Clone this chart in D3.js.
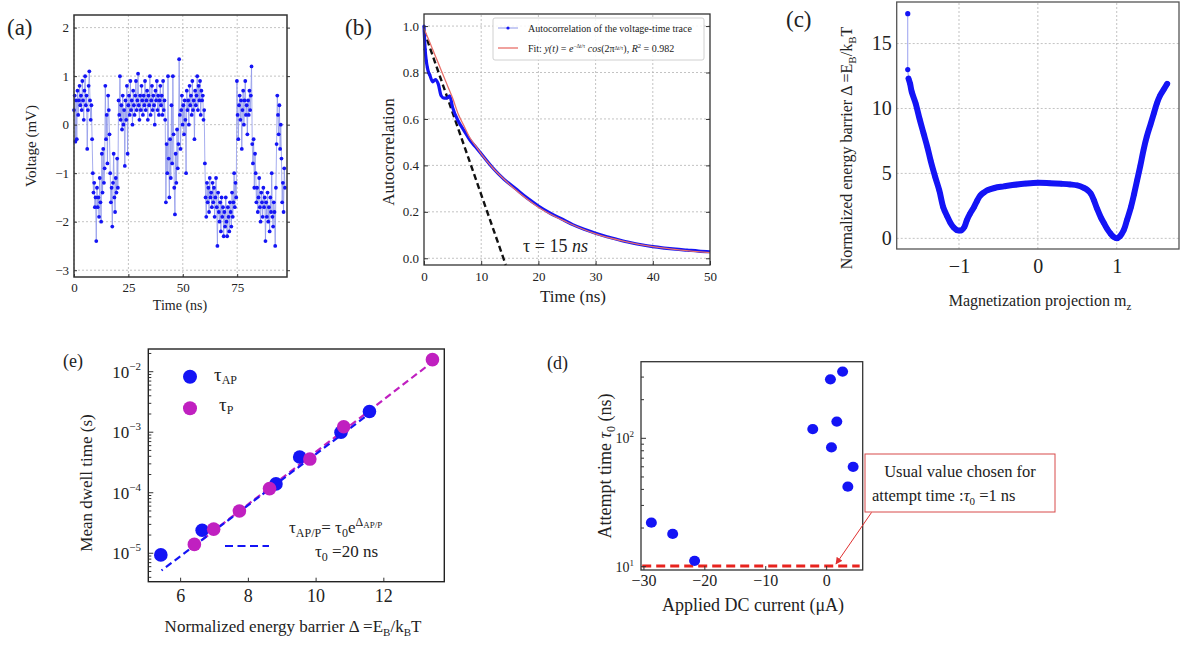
<!DOCTYPE html>
<html>
<head>
<meta charset="utf-8">
<script src="https://cdn.jsdelivr.net/npm/d3@7"></script>
<style>
body { margin: 0; background: #fff; }
</style>
</head>
<body>
<svg id="fig" width="1184" height="645" font-family="Liberation Serif"></svg>
<script>
// ---- (a) voltage-time trace, sampled every traceStep ns ----
const traceStep = 0.32;
const traceV = [
  0.3, 0.6, -0.35, 0.5, -0.3, 0.7, 0.2, 0.5, 0.8, 0.4, 0.6, 0.3, 0.9, 0.5, 0.1, 0.7, 1.0, 0.4, 0.6, -0.5, 0.3, 0.8, 1.1, 0.5, 0.1,
  0.4, -0.3, -1.0, -1.4, -1.2, -1.7, -1.5, -2.4, -1.3, -1.7, -1.5, -1.9, -1.1, -1.6, -2.0, -0.6, -1.4, -0.5, -1.2, -0.9, 0.8, -0.3, 0.2, -0.8, 0.6,
  0.3, -0.2, -1.0, -1.6, -1.3, -2.1, -1.2, -0.6, -1.5, -1.8, -1.1, -1.4, -0.7, -1.3, 0.5, 0.2, 1.0, 0.1, 0.4, -0.1, 0.6, 0.0, 0.3, -0.85, 0.5,
  0.1, 0.8, -0.6, 0.4, 0.6, 0.2, 0.9, 0.3, 0.5, 0.0, 0.7, 0.4, 0.2, 0.6, 0.9, 0.3, 0.5, 1.05, 0.4, 0.1, 0.6, 0.3, 0.8, 0.5, 0.2,
  0.6, 0.4, 0.9, 0.3, 0.5, 0.7, 0.1, 0.6, 0.4, 1.0, 0.2, 0.5, 0.8, 0.3, 0.6, 0.4, 0.0, 0.7, 0.5, 0.9, 0.3, 0.6, 0.2, 0.5, 0.8,
  0.4, 0.6, 0.2, 0.9, 0.3, 0.5, 0.1, -1.6, -0.4, -1.0, 1.0, -0.7, -1.5, -0.3, -1.1, 0.4, -0.8, 1.0, -0.2, -1.3, -1.85, -0.6, -1.2, -0.1, -0.9,
  -0.4, 1.35, 0.2, -0.5, 0.3, 0.6, 0.0, 0.4, -0.2, 0.5, 0.1, -1.0, 0.7, 0.3, 0.5, 0.0, 0.8, 0.4, 0.6, 0.2, 0.9, 0.3, 0.5, -0.3, 0.7,
  0.4, 0.6, 1.0, 0.3, 0.8, 0.5, 0.9, 0.2, 0.7, 0.5, 0.6, 0.1, 0.3, -0.8, -1.5, -1.9, -1.2, -1.6, -1.3, -1.8, -1.1, -1.5, -1.4, -1.7, -1.2,
  -1.6, -1.3, -1.9, -1.5, -1.1, -1.7, -2.5, -1.4, -1.8, -2.0, -1.6, -2.2, -1.5, -1.9, -1.7, -2.3, -1.8, -2.1, -1.5, -2.0, -2.3, -1.7, -1.9, -2.2, -1.6,
  -1.8, -2.1, -1.4, -1.9, -1.6, -1.0, -1.7, -1.2, -1.5, 0.9, 0.2, -0.3, 0.4, 0.6, 0.1, 0.5, -0.5, 0.3, 0.7, 0.0, 0.5, 0.9, 0.2, 0.4, -0.2,
  0.5, 0.2, 0.7, 0.3, 0.6, 1.2, -0.4, -0.8, -0.3, -1.3, -0.6, -1.0, -1.6, -1.3, -1.8, -1.5, -1.1, -1.7, -2.0, -1.4, -1.6, -1.9, -1.3, -1.7, -1.5,
  -2.4, -1.6, -1.9, -1.4, -2.0, -1.7, -2.2, -1.5, -1.8, -1.0, -1.9, -2.1, -1.6, -1.8, -2.5, -1.3, -0.4, 0.6, 0.2, -0.2, 0.4, -0.5, 0.0, -0.7, -1.6,
  -1.2, -1.8, -0.9, -1.3
];
const aTicksX = [0, 25, 50, 75];
const aTicksY = [-3, -2, -1, 0, 1, 2];

// ---- (b) autocorrelation ----
const acT = [0, 0.2, 0.4, 0.6, 0.8, 1.0, 1.5, 2.0, 2.5, 3.0, 3.5, 4.0, 4.5, 5.0, 6, 7, 8, 9, 10, 12, 14, 16, 18, 20, 22, 24, 26, 28, 30, 32, 34, 36, 38, 40, 42, 44, 46, 48, 50];
const acV = [1.0, 0.90, 0.85, 0.82, 0.80, 0.79, 0.76, 0.77, 0.75, 0.70, 0.69, 0.69, 0.70, 0.65, 0.59, 0.55, 0.51, 0.48, 0.45, 0.39, 0.34, 0.30, 0.26, 0.225, 0.195, 0.17, 0.145, 0.125, 0.108, 0.093, 0.080, 0.068, 0.058, 0.050, 0.044, 0.039, 0.035, 0.031, 0.028];
const fitT = [0, 1, 2, 3, 4, 5, 6, 7, 8, 9, 10, 12, 14, 16, 18, 20, 25, 30, 35, 40, 45, 50];
const fitV = [0.99, 0.93, 0.87, 0.81, 0.75, 0.69, 0.62, 0.57, 0.52, 0.485, 0.45, 0.39, 0.34, 0.295, 0.255, 0.22, 0.155, 0.105, 0.073, 0.05, 0.035, 0.024];
const tangentT = [0, 14.3];
const tangentV = [0.98, -0.029];
const bTicksX = [0, 10, 20, 30, 40, 50];
const bTicksY = [0, 0.2, 0.4, 0.6, 0.8, 1.0];

// ---- (c) energy landscape ----
const cMz = [-1.65, -1.65, -1.64, -1.62, -1.6, -1.55, -1.5, -1.45, -1.4, -1.36, -1.3, -1.25, -1.2, -1.15, -1.11, -1.07, -1.03, -1.0, -0.97, -0.93, -0.9, -0.86, -0.81, -0.77, -0.73, -0.68, -0.64, -0.55, -0.43, -0.3, -0.15, 0, 0.15, 0.3, 0.41, 0.5, 0.58, 0.63, 0.67, 0.71, 0.75, 0.8, 0.84, 0.88, 0.92, 0.96, 1.0, 1.04, 1.09, 1.13, 1.18, 1.22, 1.26, 1.3, 1.34, 1.38, 1.43, 1.47, 1.51, 1.55, 1.6, 1.64];
const cDelta = [17.3, 13.0, 12.3, 11.9, 11.3, 10.4, 9.2, 8.1, 7.0, 6.0, 4.7, 3.7, 2.4, 1.7, 1.2, 0.85, 0.64, 0.6, 0.62, 0.9, 1.4, 1.9, 2.4, 2.9, 3.3, 3.55, 3.7, 3.88, 4.0, 4.12, 4.22, 4.28, 4.25, 4.2, 4.15, 4.08, 3.9, 3.72, 3.46, 2.95, 2.3, 1.6, 1.15, 0.72, 0.38, 0.12, 0.0, 0.15, 0.64, 1.4, 2.4, 3.4, 4.5, 5.6, 6.8, 7.8, 8.8, 9.6, 10.4, 11.0, 11.5, 11.9];
const cTicksX = [-1, 0, 1];
const cTicksY = [0, 5, 10, 15];

// ---- (e) mean dwell time ----
const apDelta = [5.43, 6.65, 8.83, 9.53, 10.75, 11.59];
const apTau = [9.4e-6, 2.4e-5, 1.4e-4, 3.9e-4, 1.0e-3, 2.2e-3];
const pDelta = [6.42, 6.99, 7.75, 8.64, 9.83, 10.83, 13.45];
const pTau = [1.4e-5, 2.5e-5, 5.0e-5, 1.17e-4, 3.6e-4, 1.23e-3, 1.58e-2];
const apFitDelta = [5.45, 11.6];
const apFitTau = [5.2e-6, 2.05e-3];
const pFitDelta = [6.4, 13.45];
const pFitTau = [1.3e-5, 1.45e-2];
const eTicksX = [6, 8, 10, 12];
const eTicksY = [1e-5, 1e-4, 1e-3, 1e-2];

// ---- (d) attempt time vs DC current ----
const dcCurrent = [-28.7, -25.2, -21.6, -2.2, 0.7, 2.7, 1.75, 0.87, 4.43, 3.56];
const attemptTime = [22.0, 18.0, 11.1, 118, 288, 331, 135, 85, 60, 42];
const usualTau0 = 10;
const dTicksX = [-30, -20, -10, 0];
const dTicksY = [10, 100];

const FONT = "Liberation Serif";
const BLUE = "#1414f5", MAGENTA = "#c020c0";
const svg = d3.select("#fig");
svg.append("rect").attr("width", 1184).attr("height", 645).attr("fill", "#fff");

function label(g, txt, x, y, size, opts = {}) {
  const t = g.append("text").attr("x", x).attr("y", y).attr("font-size", size)
    .attr("font-family", FONT).attr("fill", "#222").text(txt);
  if (opts.anchor) t.attr("text-anchor", opts.anchor);
  if (opts.rotate) t.attr("transform", `rotate(-90,${x},${y})`);
  if (opts.italic) t.attr("font-style", "italic");
  return t;
}
function grid(g, xs, ys, xv, yv) {
  const [x0, x1] = xs.range(), [y0, y1] = ys.range();
  g.selectAll(null).data(xv).join("line")
    .attr("x1", d => xs(d)).attr("x2", d => xs(d)).attr("y1", y0).attr("y2", y1)
    .attr("stroke", "#b4b4b4").attr("stroke-dasharray", "2,2").attr("stroke-width", 0.8);
  g.selectAll(null).data(yv).join("line")
    .attr("y1", d => ys(d)).attr("y2", d => ys(d)).attr("x1", x0).attr("x2", x1)
    .attr("stroke", "#b4b4b4").attr("stroke-dasharray", "2,2").attr("stroke-width", 0.8);
}
function frame(g, xs, ys, w, color) {
  const [x0, x1] = xs.range(), [y0, y1] = ys.range();
  g.append("rect").attr("x", x0).attr("y", y1).attr("width", x1 - x0).attr("height", y0 - y1)
    .attr("fill", "none").attr("stroke", color).attr("stroke-width", w);
}
function styleAxis(a, size) {
  a.attr("font-family", FONT).attr("font-size", size);
  a.select(".domain").remove();
  a.selectAll("text").attr("font-size", size).attr("font-family", FONT).attr("fill", "#222");
  a.selectAll("line").attr("stroke", "#333");
}
const intFmt = d3.format("d");

// ================= (a) =================
{
  const g = svg.append("g");
  const x = d3.scaleLinear().domain([0, 97.9]).range([74, 287]);
  const y = d3.scaleLinear().domain([-3.14, 2.26]).range([277, 15]);
  grid(g, x, y, aTicksX, aTicksY);
  const pts = traceV.map((v, i) => [i * traceStep, v]);
  g.append("path").datum(pts)
    .attr("d", d3.line().x(d => x(d[0])).y(d => y(d[1])))
    .attr("fill", "none").attr("stroke", "#8f98ea").attr("stroke-width", 0.8);
  g.selectAll("circle").data(pts).join("circle")
    .attr("cx", d => x(d[0])).attr("cy", d => y(d[1])).attr("r", 1.9).attr("fill", BLUE);
  const ax = g.append("g").attr("transform", "translate(0,277)")
    .call(d3.axisBottom(x).tickValues(aTicksX).tickSizeInner(-3).tickSizeOuter(0).tickPadding(6).tickFormat(intFmt));
  styleAxis(ax, 13);
  const ay = g.append("g").attr("transform", "translate(74,0)")
    .call(d3.axisLeft(y).tickValues(aTicksY).tickSizeInner(-3).tickSizeOuter(0).tickPadding(5).tickFormat(intFmt));
  styleAxis(ay, 13);
  const ar = g.append("g").attr("transform", "translate(287,0)")
    .call(d3.axisRight(y).tickValues(aTicksY).tickSize(3).tickFormat(""));
  ar.select(".domain").remove(); ar.selectAll("line").attr("stroke", "#333");
  frame(g, x, y, 1.5, "#333");
  label(g, "(a)", 7, 35, 23);
  label(g, "Voltage (mV)", 36, 146, 15, { anchor: "middle", rotate: true });
  label(g, "Time (ns)", 180, 310, 14, { anchor: "middle" });
}

// ================= (b) =================
{
  const g = svg.append("g");
  const x = d3.scaleLinear().domain([0, 50]).range([424, 710]);
  const y = d3.scaleLinear().domain([-0.029, 1.052]).range([265, 14]);
  grid(g, x, y, bTicksX.slice(1, -1), bTicksY);
  const ln = d3.line().x(d => x(d[0])).y(d => y(d[1]));
  g.append("path").datum(tangentT.map((t, i) => [t, tangentV[i]])).attr("d", ln)
    .attr("fill", "none").attr("stroke", "#111").attr("stroke-width", 2.4).attr("stroke-dasharray", "6,3.5");
  const ac = acT.map((t, i) => [t, acV[i]]);
  g.append("path").datum(ac).attr("d", d3.line().curve(d3.curveMonotoneX).x(d => x(d[0])).y(d => y(d[1])))
    .attr("fill", "none").attr("stroke", BLUE).attr("stroke-width", 3.2);
  g.selectAll(".acd").data(ac.filter(d => d[0] <= 1)).join("circle")
    .attr("cx", d => x(d[0])).attr("cy", d => y(d[1])).attr("r", 1.6).attr("fill", BLUE);
  g.append("path").datum(fitT.map((t, i) => [t, fitV[i]]))
    .attr("d", d3.line().curve(d3.curveMonotoneX).x(d => x(d[0])).y(d => y(d[1])))
    .attr("fill", "none").attr("stroke", "#e8706a").attr("stroke-width", 1.3);
  const ax = g.append("g").attr("transform", "translate(0,265)")
    .call(d3.axisBottom(x).tickValues(bTicksX).tickSizeInner(-4).tickSizeOuter(0).tickPadding(7).tickFormat(intFmt));
  styleAxis(ax, 13);
  const ay = g.append("g").attr("transform", "translate(424,0)")
    .call(d3.axisLeft(y).tickValues(bTicksY).tickSizeInner(-4).tickSizeOuter(0).tickPadding(5).tickFormat(d3.format(".1f")));
  styleAxis(ay, 13);
  const ar = g.append("g").attr("transform", "translate(710,0)")
    .call(d3.axisRight(y).tickValues(bTicksY).tickSize(-4).tickFormat(""));
  ar.select(".domain").remove(); ar.selectAll("line").attr("stroke", "#333");
  frame(g, x, y, 1.3, "#333");
  // legend
  g.append("rect").attr("x", 493).attr("y", 18).attr("width", 211).attr("height", 42).attr("rx", 2)
    .attr("fill", "#fff").attr("fill-opacity", 0.85).attr("stroke", "#d0d0d0");
  g.append("line").attr("x1", 498).attr("x2", 518).attr("y1", 28).attr("y2", 28).attr("stroke", "#8f98ea").attr("stroke-width", 1);
  g.append("circle").attr("cx", 508).attr("cy", 28).attr("r", 1.6).attr("fill", BLUE);
  label(g, "Autocorrelation of the voltage-time trace", 528, 31.5, 10);
  g.append("line").attr("x1", 498).attr("x2", 518).attr("y1", 48).attr("y2", 48).attr("stroke", "#e8706a").attr("stroke-width", 1.3);
  const f = label(g, "Fit: ", 528, 52, 10);
  f.append("tspan").attr("font-style", "italic").text("y(t)");
  f.append("tspan").text(" = ");
  f.append("tspan").attr("font-style", "italic").text("e");
  f.append("tspan").attr("font-size", 5.5).attr("dy", -4).text("−Δt/τ");
  f.append("tspan").attr("dy", 4).attr("font-style", "italic").text(" cos");
  f.append("tspan").text("(2π");
  f.append("tspan").attr("font-size", 5.5).attr("dy", -2.5).text("Δt/τ");
  f.append("tspan").attr("dy", 2.5).text("), ");
  f.append("tspan").attr("font-style", "italic").text("R");
  f.append("tspan").attr("font-size", 6.5).attr("dy", -4).text("2");
  f.append("tspan").attr("dy", 4).text(" = 0.982");
  const tl = label(g, "τ = 15 ", 523, 252, 18);
  tl.append("tspan").attr("font-style", "italic").text("ns");
  label(g, "(b)", 345, 35, 23);
  label(g, "Autocorrelation", 394, 152, 17, { anchor: "middle", rotate: true });
  label(g, "Time (ns)", 573, 302, 17, { anchor: "middle" });
}

// ================= (c) =================
{
  const g = svg.append("g");
  const x = d3.scaleLinear().domain([-1.79, 1.79]).range([896.7, 1179]);
  const y = d3.scaleLinear().domain([-0.82, 18.2]).range([249, 2]);
  grid(g, x, y, cTicksX, cTicksY);
  const pts = cMz.map((m, i) => [m, cDelta[i]]);
  const ln = d3.line().x(d => x(d[0])).y(d => y(d[1]));
  g.append("path").datum(pts.slice(0, 4)).attr("d", ln)
    .attr("fill", "none").attr("stroke", "#9aa0f0").attr("stroke-width", 1);
  g.append("path").datum(pts.slice(2)).attr("d", d3.line().curve(d3.curveCatmullRom).x(d => x(d[0])).y(d => y(d[1])))
    .attr("fill", "none").attr("stroke", BLUE).attr("stroke-width", 6).attr("stroke-linecap", "round").attr("stroke-linejoin", "round");
  g.selectAll("circle").data(pts).join("circle")
    .attr("cx", d => x(d[0])).attr("cy", d => y(d[1])).attr("r", 2.6).attr("fill", BLUE);
  const ax = g.append("g").attr("transform", "translate(0,249)")
    .call(d3.axisBottom(x).tickValues(cTicksX).tickSize(0).tickPadding(10).tickFormat(intFmt));
  styleAxis(ax, 20);
  const ay = g.append("g").attr("transform", "translate(896.7,0)")
    .call(d3.axisLeft(y).tickValues(cTicksY).tickSize(0).tickPadding(5).tickFormat(intFmt));
  styleAxis(ay, 20);
  frame(g, x, y, 1.3, "#555");
  label(g, "(c)", 786, 27, 23);
  const yl = label(g, "Normalized energy barrier Δ =E", 852, 148, 16, { anchor: "middle", rotate: true });
  yl.append("tspan").attr("font-size", 11).attr("dy", 4).text("B");
  yl.append("tspan").attr("dy", -4).text("/k");
  yl.append("tspan").attr("font-size", 11).attr("dy", 4).text("B");
  yl.append("tspan").attr("dy", -4).text("T");
  const xl = label(g, "Magnetization  projection  m", 1040, 306, 16, { anchor: "middle" });
  xl.append("tspan").attr("font-size", 11).attr("dy", 4).text("z");
}

// ================= (e) =================
{
  const g = svg.append("g");
  const x = d3.scaleLinear().domain([5.06, 13.8]).range([148.3, 444.3]);
  const y = d3.scaleLog().domain([Math.pow(10, -5.47), Math.pow(10, -1.625)]).range([581.7, 349]);
  const ln = d3.line().x(d => x(d[0])).y(d => y(d[1]));
  g.append("path").datum(pFitDelta.map((v, i) => [v, pFitTau[i]])).attr("d", ln)
    .attr("fill", "none").attr("stroke", MAGENTA).attr("stroke-width", 2.2).attr("stroke-dasharray", "7,4");
  g.append("path").datum(apFitDelta.map((v, i) => [v, apFitTau[i]])).attr("d", ln)
    .attr("fill", "none").attr("stroke", BLUE).attr("stroke-width", 2.2).attr("stroke-dasharray", "7,4").attr("stroke-dashoffset", 5.5);
  g.selectAll(".ap").data(apDelta).join("circle")
    .attr("cx", d => x(d)).attr("cy", (d, i) => y(apTau[i])).attr("r", 6.8).attr("fill", BLUE);
  g.selectAll(".p").data(pDelta).join("circle")
    .attr("cx", d => x(d)).attr("cy", (d, i) => y(pTau[i])).attr("r", 6.8).attr("fill", MAGENTA);
  const ax = g.append("g").attr("transform", "translate(0,581.7)")
    .call(d3.axisBottom(x).tickValues(eTicksX).tickSizeInner(-4).tickSizeOuter(0).tickPadding(8).tickFormat(intFmt));
  styleAxis(ax, 18);
  // log y: minor ticks
  const minor = [];
  for (let e = -6; e <= -2; e++) for (let m = 2; m <= 9; m++) {
    const v = m * Math.pow(10, e);
    if (v > y.domain()[0] && v < y.domain()[1]) minor.push(v);
  }
  g.selectAll(".mn").data(minor).join("line")
    .attr("x1", 148.3).attr("x2", 151.3).attr("y1", d => y(d)).attr("y2", d => y(d)).attr("stroke", "#333");
  g.selectAll(".mj").data(eTicksY).join("line")
    .attr("x1", 148.3).attr("x2", 153.3).attr("y1", d => y(d)).attr("y2", d => y(d)).attr("stroke", "#333");
  eTicksY.forEach(v => {
    const t = label(g, "10", 141, y(v) + 6, 17, { anchor: "end" });
    t.append("tspan").attr("font-size", 11).attr("dy", -8).text("−" + Math.round(-Math.log10(v)));
  });
  frame(g, x, y, 1.4, "#222");
  // legend
  g.append("circle").attr("cx", 190).attr("cy", 376.7).attr("r", 7).attr("fill", BLUE);
  const l1 = label(g, "τ", 214, 381, 19);
  l1.append("tspan").attr("font-size", 12).attr("dy", 3).text("AP");
  g.append("circle").attr("cx", 190).attr("cy", 408.3).attr("r", 7).attr("fill", MAGENTA);
  const l2 = label(g, "τ", 219, 411, 19);
  l2.append("tspan").attr("font-size", 12).attr("dy", 3).text("P");
  g.append("line").attr("x1", 225).attr("x2", 269).attr("y1", 546).attr("y2", 546)
    .attr("stroke", BLUE).attr("stroke-width", 2.2).attr("stroke-dasharray", "8,4.5");
  const f1 = label(g, "τ", 289, 533, 17);
  f1.append("tspan").attr("font-size", 12).attr("dy", 4).text("AP/P");
  f1.append("tspan").attr("dy", -4).text("=  τ");
  f1.append("tspan").attr("font-size", 12).attr("dy", 4).text("0");
  f1.append("tspan").attr("dy", -4).text("e");
  f1.append("tspan").attr("font-size", 12).attr("dy", -7).text("Δ");
  f1.append("tspan").attr("font-size", 9).attr("dy", 2).text("AP/P");
  const f2 = label(g, "τ", 315, 557, 17);
  f2.append("tspan").attr("font-size", 12).attr("dy", 4).text("0");
  f2.append("tspan").attr("dy", -4).text(" =20 ns");
  label(g, "(e)", 63, 367, 18);
  label(g, "Mean dwell time (s)", 92, 483, 17, { anchor: "middle", rotate: true });
  const xl = label(g, "Normalized  energy barrier Δ =E", 293, 632, 17, { anchor: "middle" });
  xl.append("tspan").attr("font-size", 11).attr("dy", 4).text("B");
  xl.append("tspan").attr("dy", -4).text("/k");
  xl.append("tspan").attr("font-size", 11).attr("dy", 4).text("B");
  xl.append("tspan").attr("dy", -4).text("T");
}

// ================= (d) =================
{
  const g = svg.append("g");
  const x = d3.scaleLinear().domain([-30.4, 6.0]).range([641, 862.7]);
  const y = d3.scaleLog().domain([Math.pow(10, 0.974), Math.pow(10, 2.597)]).range([570, 361.7]);
  g.append("line").attr("x1", x(-30.2)).attr("x2", x(5.5)).attr("y1", y(usualTau0) - 0.6).attr("y2", y(usualTau0) - 0.6)
    .attr("stroke", "#e8231e").attr("stroke-width", 3).attr("stroke-dasharray", "9,5");
  g.selectAll(".pt").data(dcCurrent).join("ellipse")
    .attr("cx", d => x(d)).attr("cy", (d, i) => y(attemptTime[i])).attr("rx", 5.5).attr("ry", 5.1).attr("fill", BLUE);
  const ax = g.append("g").attr("transform", "translate(0,570)")
    .call(d3.axisBottom(x).tickValues(dTicksX).tickSizeInner(-4).tickSizeOuter(0).tickPadding(5).tickFormat(intFmt));
  styleAxis(ax, 16);
  const minor = [];
  for (let e = 0; e <= 2; e++) for (let m = 2; m <= 9; m++) {
    const v = m * Math.pow(10, e);
    if (v > y.domain()[0] && v < y.domain()[1]) minor.push(v);
  }
  g.selectAll(".mn").data(minor).join("line")
    .attr("x1", 641).attr("x2", 644).attr("y1", d => y(d)).attr("y2", d => y(d)).attr("stroke", "#333");
  g.selectAll(".mj").data(dTicksY).join("line")
    .attr("x1", 641).attr("x2", 646).attr("y1", d => y(d)).attr("y2", d => y(d)).attr("stroke", "#333");
  dTicksY.forEach(v => {
    const t = label(g, "10", 634, y(v) + 5, 14, { anchor: "end" });
    t.append("tspan").attr("font-size", 9).attr("dy", -6).text(String(Math.round(Math.log10(v))));
  });
  frame(g, x, y, 1.3, "#333");
  // annotation
  g.append("rect").attr("x", 865).attr("y", 454).attr("width", 190).attr("height", 58)
    .attr("fill", "#fff").attr("stroke", "#d84a4a").attr("stroke-width", 1);
  label(g, "Usual value chosen for", 960, 477, 16.5, { anchor: "middle" });
  const a2 = label(g, "attempt time :", 872, 500.5, 16.5);
  a2.append("tspan").attr("font-style", "italic").text("τ");
  a2.append("tspan").attr("font-size", 11).attr("dy", 4).text("0");
  a2.append("tspan").attr("dy", -4).text(" =1 ns");
  svg.append("defs").append("marker").attr("id", "arr").attr("viewBox", "0 0 10 10")
    .attr("refX", 9).attr("refY", 5).attr("markerWidth", 7).attr("markerHeight", 7).attr("orient", "auto")
    .append("path").attr("d", "M0,0 L10,5 L0,10 z").attr("fill", "#e03030");
  g.append("line").attr("x1", 871.5).attr("y1", 512.5).attr("x2", 836).attr("y2", 564)
    .attr("stroke", "#e03030").attr("stroke-width", 1).attr("marker-end", "url(#arr)");
  label(g, "(d)", 547, 369, 18);
  const yl = label(g, "Attempt time ", 611, 466, 18, { anchor: "middle", rotate: true });
  yl.append("tspan").attr("font-style", "italic").text("τ");
  yl.append("tspan").attr("font-size", 12).attr("dy", 4).text("0");
  yl.append("tspan").attr("dy", -4).text(" (ns)");
  label(g, "Applied DC current (μA)", 753, 611, 18, { anchor: "middle" });
}
</script>
</body>
</html>
